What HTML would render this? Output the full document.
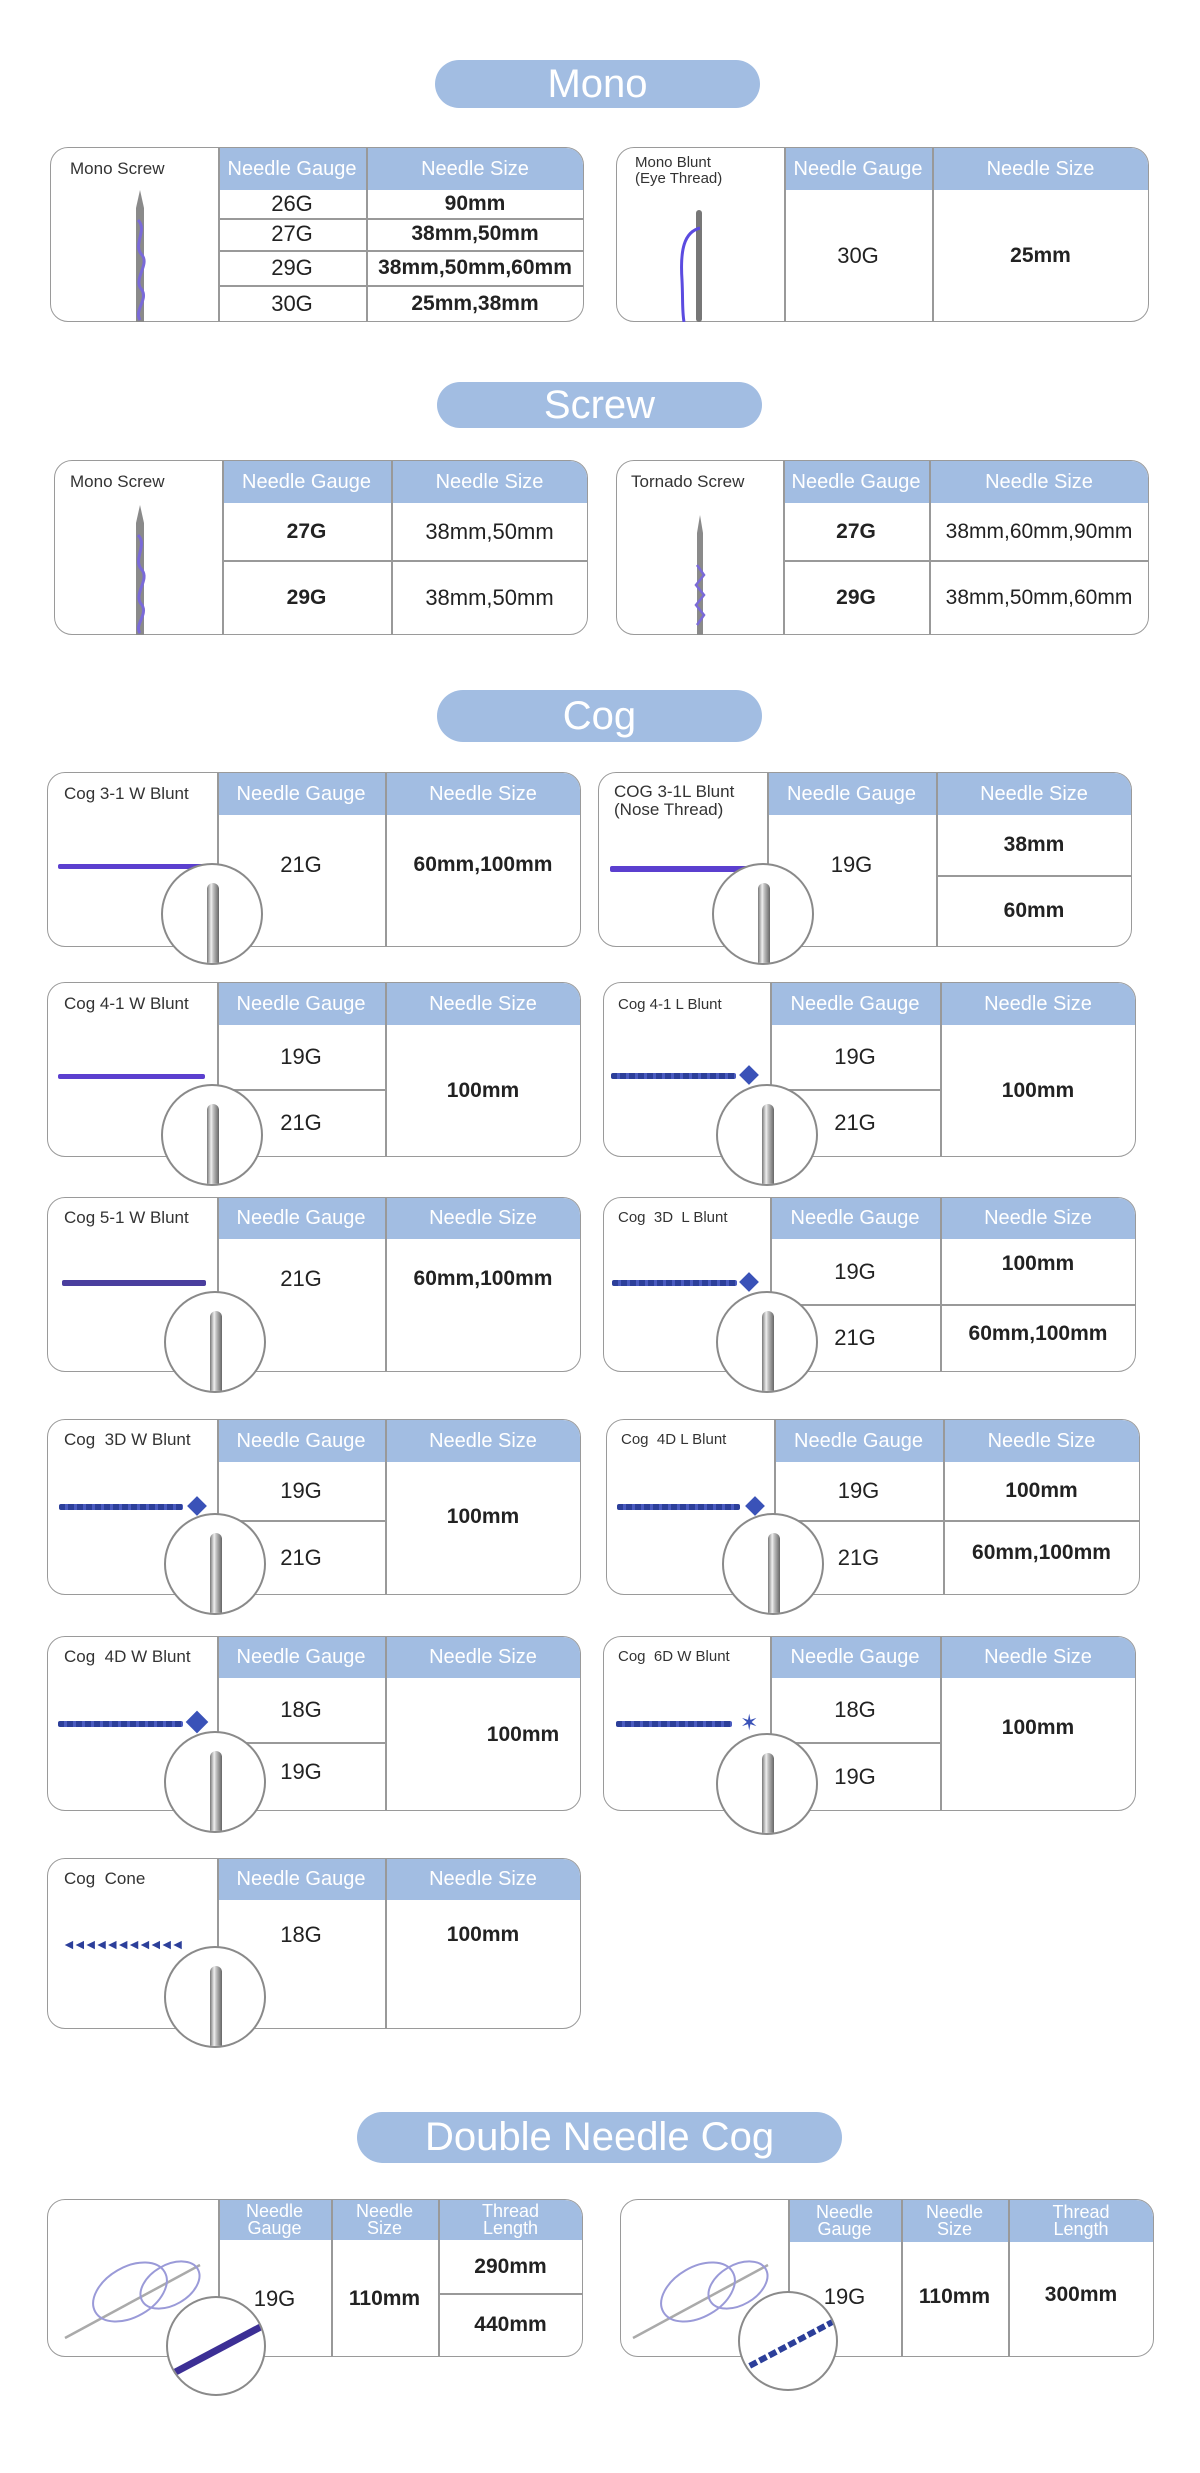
<!DOCTYPE html>
<html><head><meta charset="utf-8">
<style>
*{margin:0;padding:0;box-sizing:border-box}
body{width:1200px;height:2473px;background:#fff;position:relative;overflow:hidden;font-family:"Liberation Sans",sans-serif;color:#222}
.pill{position:absolute;background:#a2bde2;border-radius:26px;color:#fff;font-size:40px;display:flex;align-items:center;justify-content:center}
.card{position:absolute;border:1.5px solid #9a9a9a;border-radius:18px;background:#fff}
.hd{position:absolute;background:#a2bde2}
.vl{position:absolute;width:1.5px;background:#999}
.hl{position:absolute;height:1.5px;background:#999}
.c{position:absolute;display:flex;align-items:center;justify-content:center;text-align:center;font-size:22px}
.h{color:#fff;font-size:20px}
.b{font-weight:bold;font-size:21px}
.lb{position:absolute;font-size:17px;color:#333;line-height:18px}
.circ{position:absolute;width:102px;height:102px;border-radius:50%;border:2px solid #8a8a8a;background:#fff;overflow:hidden}
.ndl{position:absolute;left:44px;top:18px;width:12px;height:100px;border-radius:6px 6px 0 0;background:linear-gradient(90deg,#777,#eee 35%,#bbb 55%,#666)}
.th{position:absolute;height:5px;background:#5b3fcf;border-radius:2px}
.td{position:absolute;height:6px;background:repeating-linear-gradient(90deg,#2c3f9a 0 6px,#4a5bc0 6px 9px);border-radius:2px}
</style></head><body>

<!-- MONO -->
<div class="pill" style="left:435px;top:60px;width:325px;height:48px">Mono</div>

<div class="card" style="left:50px;top:147px;width:534px;height:175px"></div>
<div class="hd" style="left:218px;top:148px;width:365px;height:42px;border-top-right-radius:17px"></div>
<div class="vl" style="left:218px;top:148px;height:174px"></div>
<div class="vl" style="left:366px;top:148px;height:174px"></div>
<div class="hl" style="left:218px;top:218px;width:366px"></div>
<div class="hl" style="left:218px;top:250px;width:366px"></div>
<div class="hl" style="left:218px;top:285px;width:366px"></div>
<div class="lb" style="left:70px;top:160px">Mono Screw</div>
<div class="c h" style="left:218px;top:148px;width:148px;height:42px">Needle Gauge</div>
<div class="c h" style="left:366px;top:148px;width:218px;height:42px">Needle Size</div>
<div class="c" style="left:218px;top:190px;width:148px;height:28px">26G</div>
<div class="c b" style="left:366px;top:190px;width:218px;height:28px">90mm</div>
<div class="c" style="left:218px;top:218px;width:148px;height:32px">27G</div>
<div class="c b" style="left:366px;top:218px;width:218px;height:32px">38mm,50mm</div>
<div class="c" style="left:218px;top:250px;width:148px;height:35px">29G</div>
<div class="c b" style="left:366px;top:250px;width:218px;height:35px">38mm,50mm,60mm</div>
<div class="c" style="left:218px;top:285px;width:148px;height:37px">30G</div>
<div class="c b" style="left:366px;top:285px;width:218px;height:37px">25mm,38mm</div>
<svg style="position:absolute;left:120px;top:190px" width="40" height="132"><path d="M20 0 L16 18 L16 132 L24 132 L24 18 Z" fill="#8a8a8a"/><path d="M18 30 C28 40 12 55 22 65 C30 75 12 90 22 100 C28 110 14 120 20 130" stroke="#7a6ad8" stroke-width="3" fill="none"/></svg>

<div class="card" style="left:616px;top:147px;width:533px;height:175px"></div>
<div class="hd" style="left:784px;top:148px;width:364px;height:42px;border-top-right-radius:17px"></div>
<div class="vl" style="left:784px;top:148px;height:174px"></div>
<div class="vl" style="left:932px;top:148px;height:174px"></div>
<div class="lb" style="left:635px;top:155px;font-size:15px;line-height:16px">Mono Blunt<br>(Eye Thread)</div>
<div class="c h" style="left:784px;top:148px;width:148px;height:42px">Needle Gauge</div>
<div class="c h" style="left:932px;top:148px;width:217px;height:42px">Needle Size</div>
<div class="c" style="left:784px;top:190px;width:148px;height:132px">30G</div>
<div class="c b" style="left:932px;top:190px;width:217px;height:132px">25mm</div>
<svg style="position:absolute;left:670px;top:210px" width="60" height="112"><rect x="26" y="0" width="6" height="112" rx="3" fill="#777"/><path d="M30 18 C14 22 10 40 12 70 C13 90 12 100 14 112" stroke="#5b4be0" stroke-width="3" fill="none"/></svg>

<!-- SCREW -->
<div class="pill" style="left:437px;top:382px;width:325px;height:46px">Screw</div>

<div class="card" style="left:54px;top:460px;width:534px;height:175px"></div>
<div class="hd" style="left:222px;top:461px;width:365px;height:42px;border-top-right-radius:17px"></div>
<div class="vl" style="left:222px;top:461px;height:174px"></div>
<div class="vl" style="left:391px;top:461px;height:174px"></div>
<div class="hl" style="left:222px;top:560px;width:366px"></div>
<div class="lb" style="left:70px;top:473px">Mono Screw</div>
<div class="c h" style="left:222px;top:461px;width:169px;height:42px">Needle Gauge</div>
<div class="c h" style="left:391px;top:461px;width:197px;height:42px">Needle Size</div>
<div class="c b" style="left:222px;top:503px;width:169px;height:57px">27G</div>
<div class="c" style="left:391px;top:503px;width:197px;height:57px">38mm,50mm</div>
<div class="c b" style="left:222px;top:560px;width:169px;height:75px">29G</div>
<div class="c" style="left:391px;top:560px;width:197px;height:75px">38mm,50mm</div>
<svg style="position:absolute;left:120px;top:505px" width="40" height="130"><path d="M20 0 L16 18 L16 130 L24 130 L24 18 Z" fill="#8a8a8a"/><path d="M18 30 C28 40 12 55 22 65 C30 75 12 90 22 100 C28 110 14 120 20 128" stroke="#7a6ad8" stroke-width="3" fill="none"/></svg>

<div class="card" style="left:616px;top:460px;width:533px;height:175px"></div>
<div class="hd" style="left:783px;top:461px;width:365px;height:42px;border-top-right-radius:17px"></div>
<div class="vl" style="left:783px;top:461px;height:174px"></div>
<div class="vl" style="left:929px;top:461px;height:174px"></div>
<div class="hl" style="left:783px;top:560px;width:366px"></div>
<div class="lb" style="left:631px;top:473px">Tornado Screw</div>
<div class="c h" style="left:783px;top:461px;width:146px;height:42px">Needle Gauge</div>
<div class="c h" style="left:929px;top:461px;width:220px;height:42px">Needle Size</div>
<div class="c b" style="left:783px;top:503px;width:146px;height:57px">27G</div>
<div class="c" style="left:929px;top:503px;width:220px;height:57px;font-size:21px">38mm,60mm,90mm</div>
<div class="c b" style="left:783px;top:560px;width:146px;height:75px">29G</div>
<div class="c" style="left:929px;top:560px;width:220px;height:75px;font-size:21px">38mm,50mm,60mm</div>
<svg style="position:absolute;left:680px;top:515px" width="40" height="120"><path d="M20 0 L17 18 L17 120 L23 120 L23 18 Z" fill="#8a8a8a"/><path d="M17 50 L24 60 L16 70 L24 80 L16 90 L24 100 L17 110" stroke="#7a6ad8" stroke-width="2.5" fill="none"/></svg>

<!-- COG -->
<div class="pill" style="left:437px;top:690px;width:325px;height:52px">Cog</div>

<!-- R1 -->
<div class="card" style="left:47px;top:772px;width:534px;height:175px"></div>
<div class="hd" style="left:217px;top:773px;width:363px;height:42px;border-top-right-radius:17px"></div>
<div class="vl" style="left:217px;top:773px;height:174px"></div>
<div class="vl" style="left:385px;top:773px;height:174px"></div>
<div class="lb" style="left:64px;top:785px">Cog 3-1 W Blunt</div>
<div class="c h" style="left:217px;top:773px;width:168px;height:42px">Needle Gauge</div>
<div class="c h" style="left:385px;top:773px;width:196px;height:42px">Needle Size</div>
<div class="c" style="left:217px;top:815px;width:168px;height:100px">21G</div>
<div class="c b" style="left:385px;top:815px;width:196px;height:100px">60mm,100mm</div>
<div class="th" style="left:58px;top:864px;width:150px"></div>
<div class="circ" style="left:161px;top:863px"><div class="ndl"></div></div>

<div class="card" style="left:598px;top:772px;width:534px;height:175px"></div>
<div class="hd" style="left:767px;top:773px;width:364px;height:42px;border-top-right-radius:17px"></div>
<div class="vl" style="left:767px;top:773px;height:174px"></div>
<div class="vl" style="left:936px;top:773px;height:174px"></div>
<div class="hl" style="left:936px;top:875px;width:196px"></div>
<div class="lb" style="left:614px;top:783px">COG 3-1L Blunt<br>(Nose Thread)</div>
<div class="c h" style="left:767px;top:773px;width:169px;height:42px">Needle Gauge</div>
<div class="c h" style="left:936px;top:773px;width:196px;height:42px">Needle Size</div>
<div class="c" style="left:767px;top:815px;width:169px;height:100px">19G</div>
<div class="c b" style="left:936px;top:815px;width:196px;height:60px">38mm</div>
<div class="c b" style="left:936px;top:875px;width:196px;height:72px">60mm</div>
<div class="th" style="left:610px;top:866px;width:145px;height:6px"></div>
<div class="circ" style="left:712px;top:863px"><div class="ndl"></div></div>

<!-- R2 -->
<div class="card" style="left:47px;top:982px;width:534px;height:175px"></div>
<div class="hd" style="left:217px;top:983px;width:363px;height:42px;border-top-right-radius:17px"></div>
<div class="vl" style="left:217px;top:983px;height:174px"></div>
<div class="vl" style="left:385px;top:983px;height:174px"></div>
<div class="hl" style="left:217px;top:1089px;width:168px"></div>
<div class="lb" style="left:64px;top:995px">Cog 4-1 W Blunt</div>
<div class="c h" style="left:217px;top:983px;width:168px;height:42px">Needle Gauge</div>
<div class="c h" style="left:385px;top:983px;width:196px;height:42px">Needle Size</div>
<div class="c" style="left:217px;top:1025px;width:168px;height:64px">19G</div>
<div class="c" style="left:217px;top:1089px;width:168px;height:68px">21G</div>
<div class="c b" style="left:385px;top:1025px;width:196px;height:132px">100mm</div>
<div class="th" style="left:58px;top:1074px;width:147px"></div>
<div class="circ" style="left:161px;top:1084px"><div class="ndl"></div></div>

<div class="card" style="left:603px;top:982px;width:533px;height:175px"></div>
<div class="hd" style="left:770px;top:983px;width:365px;height:42px;border-top-right-radius:17px"></div>
<div class="vl" style="left:770px;top:983px;height:174px"></div>
<div class="vl" style="left:940px;top:983px;height:174px"></div>
<div class="hl" style="left:770px;top:1089px;width:170px"></div>
<div class="lb" style="left:618px;top:996px;font-size:15px">Cog 4-1 L Blunt</div>
<div class="c h" style="left:770px;top:983px;width:170px;height:42px">Needle Gauge</div>
<div class="c h" style="left:940px;top:983px;width:196px;height:42px">Needle Size</div>
<div class="c" style="left:770px;top:1025px;width:170px;height:64px">19G</div>
<div class="c" style="left:770px;top:1089px;width:170px;height:68px">21G</div>
<div class="c b" style="left:940px;top:1025px;width:196px;height:132px">100mm</div>
<div class="td" style="left:611px;top:1073px;width:125px"></div>
<div style="position:absolute;left:742px;top:1068px;width:14px;height:14px;background:#3a52b8;transform:rotate(45deg)"></div>
<div class="circ" style="left:716px;top:1084px"><div class="ndl"></div></div>

<!-- R3 -->
<div class="card" style="left:47px;top:1197px;width:534px;height:175px"></div>
<div class="hd" style="left:217px;top:1198px;width:363px;height:41px;border-top-right-radius:17px"></div>
<div class="vl" style="left:217px;top:1198px;height:174px"></div>
<div class="vl" style="left:385px;top:1198px;height:174px"></div>
<div class="lb" style="left:64px;top:1209px">Cog 5-1 W Blunt</div>
<div class="c h" style="left:217px;top:1198px;width:168px;height:41px">Needle Gauge</div>
<div class="c h" style="left:385px;top:1198px;width:196px;height:41px">Needle Size</div>
<div class="c" style="left:217px;top:1239px;width:168px;height:80px">21G</div>
<div class="c b" style="left:385px;top:1239px;width:196px;height:80px">60mm,100mm</div>
<div class="th" style="left:62px;top:1280px;width:144px;height:6px;background:#4a3e9e"></div>
<div class="circ" style="left:164px;top:1291px"><div class="ndl"></div></div>

<div class="card" style="left:603px;top:1197px;width:533px;height:175px"></div>
<div class="hd" style="left:770px;top:1198px;width:365px;height:41px;border-top-right-radius:17px"></div>
<div class="vl" style="left:770px;top:1198px;height:174px"></div>
<div class="vl" style="left:940px;top:1198px;height:174px"></div>
<div class="hl" style="left:770px;top:1304px;width:366px"></div>
<div class="lb" style="left:618px;top:1209px;font-size:15px">Cog &nbsp;3D &nbsp;L Blunt</div>
<div class="c h" style="left:770px;top:1198px;width:170px;height:41px">Needle Gauge</div>
<div class="c h" style="left:940px;top:1198px;width:196px;height:41px">Needle Size</div>
<div class="c" style="left:770px;top:1239px;width:170px;height:65px">19G</div>
<div class="c" style="left:770px;top:1304px;width:170px;height:68px">21G</div>
<div class="c b" style="left:940px;top:1239px;width:196px;height:50px">100mm</div>
<div class="c b" style="left:940px;top:1304px;width:196px;height:60px">60mm,100mm</div>
<div class="td" style="left:612px;top:1280px;width:125px"></div>
<div style="position:absolute;left:742px;top:1275px;width:14px;height:14px;background:#3a52b8;transform:rotate(45deg)"></div>
<div class="circ" style="left:716px;top:1291px"><div class="ndl"></div></div>

<!-- R4 -->
<div class="card" style="left:47px;top:1419px;width:534px;height:176px"></div>
<div class="hd" style="left:217px;top:1420px;width:363px;height:42px;border-top-right-radius:17px"></div>
<div class="vl" style="left:217px;top:1420px;height:175px"></div>
<div class="vl" style="left:385px;top:1420px;height:175px"></div>
<div class="hl" style="left:217px;top:1520px;width:168px"></div>
<div class="lb" style="left:64px;top:1431px">Cog &nbsp;3D W Blunt</div>
<div class="c h" style="left:217px;top:1420px;width:168px;height:42px">Needle Gauge</div>
<div class="c h" style="left:385px;top:1420px;width:196px;height:42px">Needle Size</div>
<div class="c" style="left:217px;top:1462px;width:168px;height:58px">19G</div>
<div class="c" style="left:217px;top:1520px;width:168px;height:75px">21G</div>
<div class="c b" style="left:385px;top:1462px;width:196px;height:110px">100mm</div>
<div class="td" style="left:59px;top:1504px;width:124px"></div>
<div style="position:absolute;left:190px;top:1499px;width:14px;height:14px;background:#3a52b8;transform:rotate(45deg)"></div>
<div class="circ" style="left:164px;top:1513px"><div class="ndl"></div></div>

<div class="card" style="left:606px;top:1419px;width:534px;height:176px"></div>
<div class="hd" style="left:774px;top:1420px;width:365px;height:42px;border-top-right-radius:17px"></div>
<div class="vl" style="left:774px;top:1420px;height:175px"></div>
<div class="vl" style="left:943px;top:1420px;height:175px"></div>
<div class="hl" style="left:774px;top:1520px;width:366px"></div>
<div class="lb" style="left:621px;top:1431px;font-size:15px">Cog &nbsp;4D L Blunt</div>
<div class="c h" style="left:774px;top:1420px;width:169px;height:42px">Needle Gauge</div>
<div class="c h" style="left:943px;top:1420px;width:197px;height:42px">Needle Size</div>
<div class="c" style="left:774px;top:1462px;width:169px;height:58px">19G</div>
<div class="c" style="left:774px;top:1520px;width:169px;height:75px">21G</div>
<div class="c b" style="left:943px;top:1462px;width:197px;height:58px">100mm</div>
<div class="c b" style="left:943px;top:1520px;width:197px;height:65px">60mm,100mm</div>
<div class="td" style="left:617px;top:1504px;width:123px"></div>
<div style="position:absolute;left:748px;top:1499px;width:14px;height:14px;background:#3a52b8;transform:rotate(45deg)"></div>
<div class="circ" style="left:722px;top:1513px"><div class="ndl"></div></div>

<!-- R5 -->
<div class="card" style="left:47px;top:1636px;width:534px;height:175px"></div>
<div class="hd" style="left:217px;top:1637px;width:363px;height:41px;border-top-right-radius:17px"></div>
<div class="vl" style="left:217px;top:1637px;height:174px"></div>
<div class="vl" style="left:385px;top:1637px;height:174px"></div>
<div class="hl" style="left:217px;top:1742px;width:168px"></div>
<div class="lb" style="left:64px;top:1648px">Cog &nbsp;4D W Blunt</div>
<div class="c h" style="left:217px;top:1637px;width:168px;height:41px">Needle Gauge</div>
<div class="c h" style="left:385px;top:1637px;width:196px;height:41px">Needle Size</div>
<div class="c" style="left:217px;top:1678px;width:168px;height:64px">18G</div>
<div class="c" style="left:217px;top:1742px;width:168px;height:60px">19G</div>
<div class="c b" style="left:425px;top:1700px;width:196px;height:70px">100mm</div>
<div class="td" style="left:58px;top:1721px;width:125px"></div>
<div style="position:absolute;left:189px;top:1714px;width:16px;height:16px;background:#3a52b8;transform:rotate(45deg)"></div>
<div class="circ" style="left:164px;top:1731px"><div class="ndl"></div></div>

<div class="card" style="left:603px;top:1636px;width:533px;height:175px"></div>
<div class="hd" style="left:770px;top:1637px;width:365px;height:41px;border-top-right-radius:17px"></div>
<div class="vl" style="left:770px;top:1637px;height:174px"></div>
<div class="vl" style="left:940px;top:1637px;height:174px"></div>
<div class="hl" style="left:770px;top:1742px;width:170px"></div>
<div class="lb" style="left:618px;top:1648px;font-size:15px">Cog &nbsp;6D W Blunt</div>
<div class="c h" style="left:770px;top:1637px;width:170px;height:41px">Needle Gauge</div>
<div class="c h" style="left:940px;top:1637px;width:196px;height:41px">Needle Size</div>
<div class="c" style="left:770px;top:1678px;width:170px;height:64px">18G</div>
<div class="c" style="left:770px;top:1742px;width:170px;height:69px">19G</div>
<div class="c b" style="left:940px;top:1678px;width:196px;height:100px">100mm</div>
<div class="td" style="left:616px;top:1721px;width:116px"></div>
<div style="position:absolute;left:740px;top:1713px;font-size:22px;color:#3a52b8;line-height:20px">✶</div>
<div class="circ" style="left:716px;top:1733px"><div class="ndl"></div></div>

<!-- R6 -->
<div class="card" style="left:47px;top:1858px;width:534px;height:171px"></div>
<div class="hd" style="left:217px;top:1859px;width:363px;height:41px;border-top-right-radius:17px"></div>
<div class="vl" style="left:217px;top:1859px;height:170px"></div>
<div class="vl" style="left:385px;top:1859px;height:170px"></div>
<div class="lb" style="left:64px;top:1870px">Cog &nbsp;Cone</div>
<div class="c h" style="left:217px;top:1859px;width:168px;height:41px">Needle Gauge</div>
<div class="c h" style="left:385px;top:1859px;width:196px;height:41px">Needle Size</div>
<div class="c" style="left:217px;top:1900px;width:168px;height:70px">18G</div>
<div class="c b" style="left:385px;top:1900px;width:196px;height:70px">100mm</div>
<div style="position:absolute;left:62px;top:1936px;font-size:14px;color:#2c3f9a;letter-spacing:-3px;font-weight:bold">◄◄◄◄◄◄◄◄◄◄◄</div>
<div class="circ" style="left:164px;top:1946px"><div class="ndl"></div></div>

<!-- DOUBLE NEEDLE -->
<div class="pill" style="left:357px;top:2112px;width:485px;height:51px">Double Needle Cog</div>

<div class="card" style="left:47px;top:2199px;width:536px;height:158px"></div>
<div class="hd" style="left:218px;top:2200px;width:364px;height:40px;border-top-right-radius:17px"></div>
<div class="vl" style="left:218px;top:2200px;height:157px"></div>
<div class="vl" style="left:331px;top:2200px;height:157px"></div>
<div class="vl" style="left:438px;top:2200px;height:157px"></div>
<div class="hl" style="left:438px;top:2293px;width:145px"></div>
<div class="c h" style="left:218px;top:2200px;width:113px;height:40px;font-size:18px;line-height:17px">Needle<br>Gauge</div>
<div class="c h" style="left:331px;top:2200px;width:107px;height:40px;font-size:18px;line-height:17px">Needle<br>Size</div>
<div class="c h" style="left:438px;top:2200px;width:145px;height:40px;font-size:18px;line-height:17px">Thread<br>Length</div>
<div class="c" style="left:218px;top:2240px;width:113px;height:117px">19G</div>
<div class="c b" style="left:331px;top:2240px;width:107px;height:117px">110mm</div>
<div class="c b" style="left:438px;top:2240px;width:145px;height:53px">290mm</div>
<div class="c b" style="left:438px;top:2293px;width:145px;height:64px">440mm</div>
<svg style="position:absolute;left:60px;top:2250px" width="160" height="100"><line x1="5" y1="88" x2="140" y2="15" stroke="#aaa" stroke-width="2.5"/><ellipse cx="70" cy="42" rx="40" ry="25" transform="rotate(-30 70 42)" fill="none" stroke="#9a9ad8" stroke-width="2"/><ellipse cx="110" cy="35" rx="32" ry="20" transform="rotate(-30 110 35)" fill="none" stroke="#9a9ad8" stroke-width="2"/></svg>
<div class="circ" style="left:166px;top:2296px;width:100px;height:100px"><svg width="100" height="100"><path d="M0 78 L100 25" stroke="#3c2f95" stroke-width="7"/></svg></div>

<div class="card" style="left:620px;top:2199px;width:534px;height:158px"></div>
<div class="hd" style="left:788px;top:2200px;width:365px;height:42px;border-top-right-radius:17px"></div>
<div class="vl" style="left:788px;top:2200px;height:157px"></div>
<div class="vl" style="left:901px;top:2200px;height:157px"></div>
<div class="vl" style="left:1008px;top:2200px;height:157px"></div>
<div class="c h" style="left:788px;top:2200px;width:113px;height:42px;font-size:18px;line-height:17px">Needle<br>Gauge</div>
<div class="c h" style="left:901px;top:2200px;width:107px;height:42px;font-size:18px;line-height:17px">Needle<br>Size</div>
<div class="c h" style="left:1008px;top:2200px;width:146px;height:42px;font-size:18px;line-height:17px">Thread<br>Length</div>
<div class="c" style="left:788px;top:2242px;width:113px;height:110px">19G</div>
<div class="c b" style="left:901px;top:2242px;width:107px;height:110px">110mm</div>
<div class="c b" style="left:1008px;top:2242px;width:146px;height:105px">300mm</div>
<svg style="position:absolute;left:628px;top:2250px" width="160" height="100"><line x1="5" y1="88" x2="140" y2="15" stroke="#aaa" stroke-width="2.5"/><ellipse cx="70" cy="42" rx="40" ry="25" transform="rotate(-30 70 42)" fill="none" stroke="#9a9ad8" stroke-width="2"/><ellipse cx="110" cy="35" rx="32" ry="20" transform="rotate(-30 110 35)" fill="none" stroke="#9a9ad8" stroke-width="2"/></svg>
<div class="circ" style="left:738px;top:2291px;width:100px;height:100px"><svg width="100" height="100"><path d="M0 78 L100 25" stroke="#2c3f9a" stroke-width="6" stroke-dasharray="8 3"/></svg></div>

</body></html>
